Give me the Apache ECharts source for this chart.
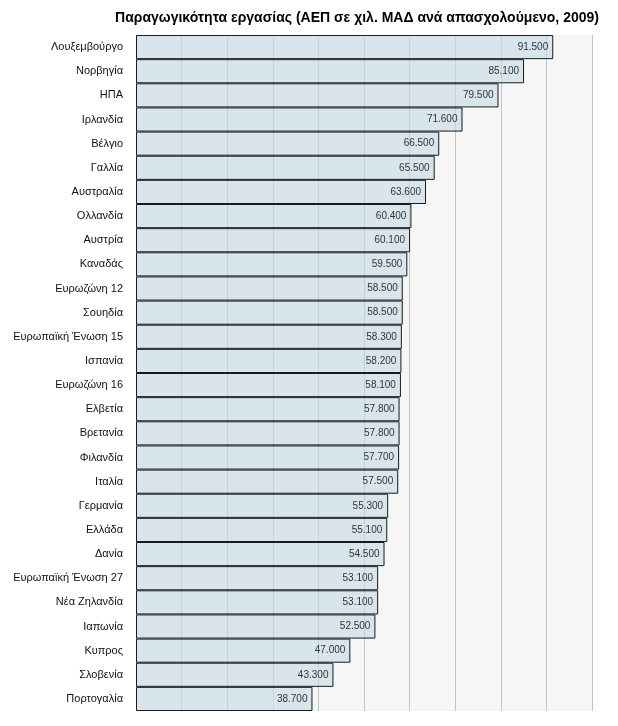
<!DOCTYPE html>
<html><head><meta charset="utf-8">
<script src="https://cdn.jsdelivr.net/npm/echarts@6/dist/echarts.min.js"></script>
<style>html,body{margin:0;padding:0;background:#fff}#c{width:618px;height:726px}</style>
</head><body><div id="c"></div>
<script>
const categories = ["Λουξεμβούργο","Νορβηγία","ΗΠΑ","Ιρλανδία","Βέλγιο","Γαλλία","Αυστραλία","Ολλανδία","Αυστρία","Καναδάς","Ευρωζώνη 12","Σουηδία","Ευρωπαϊκή Ένωση 15","Ισπανία","Ευρωζώνη 16","Ελβετία","Βρετανία","Φιλανδία","Ιταλία","Γερμανία","Ελλάδα","Δανία","Ευρωπαϊκή Ένωση 27","Νέα Ζηλανδία","Ιαπωνία","Κυπρος","Σλοβενία","Πορτογαλία"];
const values = [91500,85100,79500,71600,66500,65500,63600,60400,60100,59500,58500,58500,58300,58200,58100,57800,57800,57700,57500,55300,55100,54500,53100,53100,52500,47000,43300,38700];
const title = "Παραγωγικότητα εργασίας (ΑΕΠ σε χιλ. ΜΑΔ ανά απασχολούμενο, 2009)";

function fmt(v){ return String(v).replace(/\B(?=(\d{3})+(?!\d))/g, '.'); }

const chart = echarts.init(document.getElementById('c'), null, {renderer:'canvas'});
chart.setOption({
  animation:false,
  title:{text:title, left:352, textAlign:'center', top:6,
    textStyle:{fontFamily:'Liberation Sans, Arial, sans-serif', fontSize:14, fontWeight:'bold', color:'#000'}},
  grid:{left:136, right:26, top:35, bottom:15, show:true, backgroundColor:'#f6f6f6', borderWidth:0},
  xAxis:{type:'value', min:0, max:100000, interval:10000,
    axisLabel:{show:false}, axisLine:{show:false}, axisTick:{show:false},
    splitLine:{show:true, lineStyle:{color:'#c4c4c4', width:1}}},
  yAxis:{type:'category', data:categories, inverse:true,
    axisLine:{show:false}, axisTick:{show:false},
    axisLabel:{fontFamily:'Liberation Sans, Arial, sans-serif', fontSize:11, color:'#111', margin:13}},
  series:[{type:'bar', data:values, barCategoryGap:'0%',
    itemStyle:{color:'rgba(198,218,230,0.62)', borderColor:'#1a1a1a', borderWidth:1},
    label:{show:true, position:'insideRight', distance:5, formatter:p=>fmt(p.value),
      fontFamily:'Liberation Sans, Arial, sans-serif', fontSize:10, color:'#333'}}]
});
</script></body></html>
